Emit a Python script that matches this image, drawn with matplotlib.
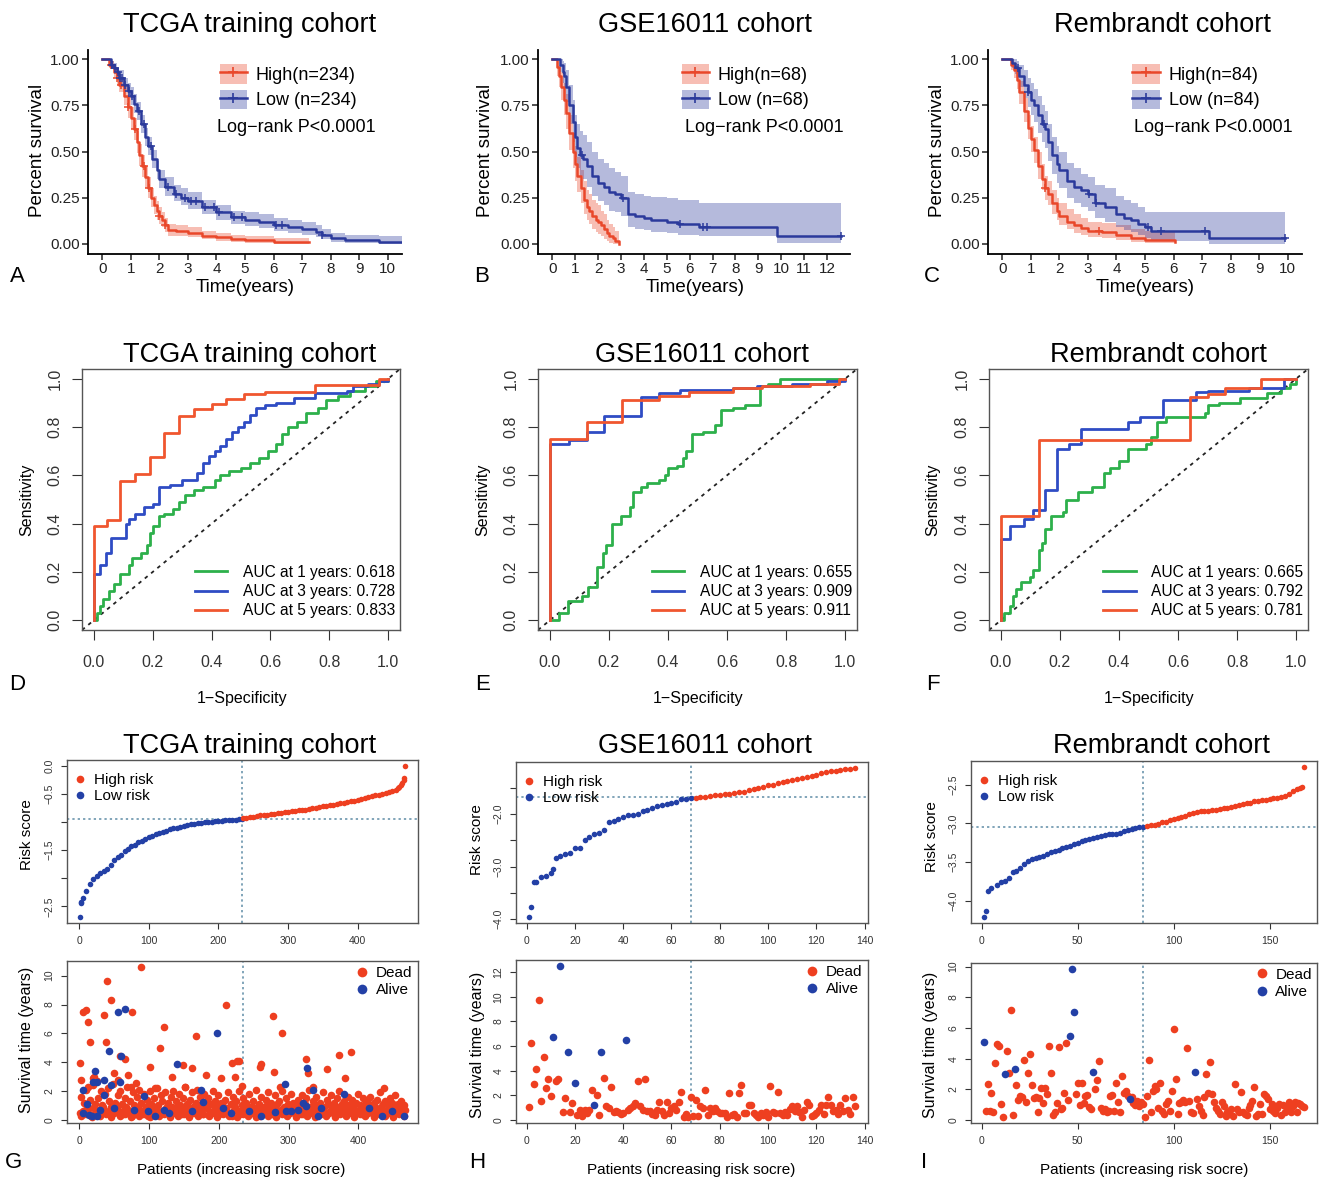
import numpy as np
import matplotlib
matplotlib.use('Agg')
import matplotlib.pyplot as plt
from matplotlib.lines import Line2D
from matplotlib.patches import Patch

plt.rcParams['font.family'] = ['Liberation Sans', 'DejaVu Sans']

# ---------------- Kaplan-Meier data (time, survival, lower CI, upper CI) ----------------
tcga_hi_t = [0, 0.25, 0.4, 0.5, 0.6, 0.75, 0.9, 1.0, 1.1, 1.2, 1.3, 1.4, 1.5, 1.6, 1.7, 1.8, 1.9, 2.0, 2.1, 2.2, 2.3, 2.6, 3.0, 3.5, 4.0, 4.5, 5.0, 6.0, 7.25]
tcga_hi_s = [1.0, 0.97, 0.93, 0.90, 0.86, 0.80, 0.74, 0.68, 0.62, 0.55, 0.48, 0.42, 0.36, 0.30, 0.25, 0.21, 0.18, 0.15, 0.13, 0.10, 0.075, 0.07, 0.06, 0.045, 0.035, 0.025, 0.02, 0.01, 0.01]
tcga_hi_lo = [1.0, 0.95, 0.90, 0.86, 0.82, 0.75, 0.68, 0.62, 0.56, 0.49, 0.42, 0.36, 0.30, 0.25, 0.20, 0.16, 0.13, 0.11, 0.09, 0.065, 0.045, 0.04, 0.035, 0.025, 0.015, 0.008, 0.005, 0.0, 0.0]
tcga_hi_up = [1.0, 0.99, 0.96, 0.94, 0.90, 0.85, 0.80, 0.74, 0.68, 0.61, 0.54, 0.48, 0.42, 0.36, 0.30, 0.26, 0.23, 0.20, 0.17, 0.14, 0.11, 0.10, 0.09, 0.07, 0.06, 0.05, 0.04, 0.03, 0.03]
tcga_hi_cens = [0.3, 0.5, 0.65, 0.9, 1.15, 1.45, 1.65, 2.0, 2.2]

tcga_lo_t = [0, 0.3, 0.4, 0.5, 0.6, 0.75, 0.9, 1.0, 1.1, 1.2, 1.35, 1.5, 1.6, 1.75, 1.9, 2.0, 2.2, 2.5, 2.75, 3.0, 3.5, 4.0, 4.5, 5.0, 5.5, 6.0, 6.5, 7.0, 7.5, 7.7, 8.0, 8.5, 9.0, 9.7, 10.5]
tcga_lo_s = [1.0, 0.97, 0.95, 0.93, 0.90, 0.86, 0.83, 0.80, 0.76, 0.72, 0.65, 0.58, 0.53, 0.46, 0.40, 0.35, 0.31, 0.27, 0.25, 0.23, 0.20, 0.17, 0.145, 0.13, 0.12, 0.10, 0.09, 0.08, 0.065, 0.05, 0.03, 0.02, 0.02, 0.01, 0.01]
tcga_lo_lo = [1.0, 0.95, 0.92, 0.90, 0.86, 0.82, 0.79, 0.75, 0.71, 0.67, 0.60, 0.53, 0.48, 0.41, 0.35, 0.30, 0.26, 0.23, 0.21, 0.19, 0.16, 0.13, 0.11, 0.095, 0.085, 0.07, 0.06, 0.05, 0.035, 0.025, 0.01, 0.005, 0.005, 0.0, 0.0]
tcga_lo_up = [1.0, 0.99, 0.98, 0.96, 0.94, 0.90, 0.87, 0.85, 0.81, 0.77, 0.70, 0.63, 0.58, 0.51, 0.45, 0.40, 0.36, 0.32, 0.30, 0.28, 0.24, 0.21, 0.18, 0.17, 0.16, 0.14, 0.13, 0.12, 0.10, 0.08, 0.06, 0.05, 0.05, 0.04, 0.04]
tcga_lo_cens = [0.35, 0.45, 0.55, 0.62, 0.7, 0.8, 0.95, 1.05, 1.3, 1.45, 1.7, 2.3, 2.6, 2.9, 3.1, 3.3, 3.6, 3.9, 4.1, 4.6, 4.9, 6.1, 6.3, 7.7]

gse_hi_t = [0, 0.2, 0.3, 0.4, 0.5, 0.6, 0.75, 0.9, 1.0, 1.1, 1.25, 1.4, 1.5, 1.6, 1.75, 1.9, 2.0, 2.15, 2.25, 2.4, 2.5, 2.65, 2.75, 2.9]
gse_hi_s = [1.0, 0.96, 0.91, 0.85, 0.78, 0.71, 0.60, 0.50, 0.43, 0.37, 0.30, 0.24, 0.20, 0.18, 0.15, 0.13, 0.12, 0.10, 0.08, 0.06, 0.045, 0.03, 0.015, 0.0]
gse_hi_lo = [1.0, 0.91, 0.85, 0.78, 0.70, 0.62, 0.51, 0.41, 0.34, 0.28, 0.22, 0.16, 0.13, 0.11, 0.08, 0.065, 0.055, 0.04, 0.025, 0.015, 0.005, 0.0, 0.0, 0.0]
gse_hi_up = [1.0, 1.0, 0.97, 0.93, 0.87, 0.81, 0.70, 0.60, 0.53, 0.47, 0.40, 0.34, 0.29, 0.27, 0.24, 0.22, 0.21, 0.18, 0.16, 0.13, 0.11, 0.09, 0.07, 0.05]
gse_hi_cens = []

gse_lo_t = [0, 0.35, 0.45, 0.5, 0.6, 0.75, 0.9, 1.0, 1.1, 1.2, 1.35, 1.5, 1.75, 2.0, 2.25, 2.5, 2.75, 3.0, 3.3, 3.6, 4.0, 4.3, 5.0, 5.5, 6.4, 9.8, 12.6]
gse_lo_s = [1.0, 0.97, 0.93, 0.91, 0.85, 0.75, 0.66, 0.58, 0.52, 0.48, 0.46, 0.42, 0.37, 0.33, 0.31, 0.28, 0.27, 0.25, 0.16, 0.15, 0.14, 0.13, 0.12, 0.11, 0.09, 0.045, 0.045]
gse_lo_lo = [1.0, 0.93, 0.87, 0.84, 0.77, 0.65, 0.55, 0.47, 0.41, 0.37, 0.35, 0.31, 0.26, 0.23, 0.21, 0.18, 0.17, 0.15, 0.09, 0.08, 0.075, 0.065, 0.06, 0.05, 0.04, 0.005, 0.005]
gse_lo_up = [1.0, 1.0, 0.99, 0.98, 0.94, 0.86, 0.78, 0.70, 0.65, 0.61, 0.59, 0.55, 0.50, 0.46, 0.44, 0.41, 0.39, 0.37, 0.28, 0.27, 0.26, 0.255, 0.25, 0.24, 0.22, 0.22, 0.22]
gse_lo_cens = [1.3, 3.1, 5.6, 6.6, 6.75, 12.6]

rem_hi_t = [0, 0.3, 0.4, 0.5, 0.6, 0.75, 0.9, 1.0, 1.1, 1.25, 1.4, 1.5, 1.6, 1.75, 1.9, 2.0, 2.25, 2.5, 2.75, 3.0, 3.5, 4.0, 4.5, 5.0, 6.05]
rem_hi_s = [1.0, 0.97, 0.94, 0.89, 0.82, 0.72, 0.63, 0.57, 0.51, 0.42, 0.35, 0.30, 0.27, 0.22, 0.18, 0.15, 0.12, 0.10, 0.085, 0.07, 0.065, 0.05, 0.03, 0.02, 0.01]
rem_hi_lo = [1.0, 0.94, 0.90, 0.84, 0.76, 0.66, 0.57, 0.50, 0.44, 0.35, 0.29, 0.24, 0.21, 0.16, 0.13, 0.10, 0.08, 0.06, 0.05, 0.035, 0.03, 0.02, 0.01, 0.005, 0.0]
rem_hi_up = [1.0, 1.0, 0.98, 0.94, 0.88, 0.79, 0.70, 0.64, 0.58, 0.50, 0.43, 0.37, 0.34, 0.29, 0.25, 0.22, 0.19, 0.16, 0.14, 0.12, 0.115, 0.10, 0.08, 0.07, 0.06]
rem_hi_cens = [1.5, 3.4]

rem_lo_t = [0, 0.35, 0.45, 0.5, 0.6, 0.75, 0.9, 1.0, 1.1, 1.25, 1.4, 1.5, 1.6, 1.75, 1.9, 2.0, 2.25, 2.5, 2.75, 3.0, 3.25, 3.6, 4.0, 4.25, 4.5, 4.75, 5.0, 5.2, 7.25, 9.9]
rem_lo_s = [1.0, 0.98, 0.96, 0.95, 0.91, 0.86, 0.82, 0.78, 0.75, 0.70, 0.65, 0.62, 0.55, 0.48, 0.43, 0.40, 0.34, 0.31, 0.29, 0.27, 0.22, 0.20, 0.16, 0.14, 0.13, 0.11, 0.09, 0.07, 0.03, 0.03]
rem_lo_lo = [1.0, 0.95, 0.92, 0.90, 0.85, 0.79, 0.74, 0.70, 0.66, 0.60, 0.55, 0.52, 0.45, 0.38, 0.33, 0.30, 0.25, 0.22, 0.20, 0.18, 0.14, 0.12, 0.09, 0.075, 0.065, 0.05, 0.03, 0.015, 0.0, 0.0]
rem_lo_up = [1.0, 1.0, 1.0, 0.99, 0.97, 0.94, 0.90, 0.87, 0.84, 0.80, 0.75, 0.72, 0.65, 0.58, 0.53, 0.50, 0.44, 0.41, 0.38, 0.36, 0.32, 0.30, 0.26, 0.24, 0.22, 0.20, 0.17, 0.17, 0.17, 0.17]
rem_lo_cens = [0.55, 0.9, 1.45, 3.05, 3.3, 5.1, 5.55, 7.1, 9.9]

# ---------------- ROC data (fpr at each jump, tpr after jump) ----------------
d_g_fpr = [0, 0.01, 0.02, 0.03, 0.05, 0.07, 0.09, 0.12, 0.13, 0.16, 0.18, 0.19, 0.20, 0.22, 0.24, 0.27, 0.29, 0.31, 0.34, 0.37, 0.41, 0.43, 0.46, 0.50, 0.53, 0.56, 0.59, 0.62, 0.64, 0.66, 0.69, 0.72, 0.76, 0.79, 0.83, 0.87, 0.92, 0.96, 1.0]
d_g_tpr = [0, 0.03, 0.06, 0.09, 0.12, 0.15, 0.19, 0.23, 0.26, 0.28, 0.31, 0.36, 0.39, 0.43, 0.44, 0.46, 0.49, 0.52, 0.54, 0.55, 0.58, 0.60, 0.62, 0.63, 0.65, 0.67, 0.70, 0.73, 0.77, 0.80, 0.82, 0.86, 0.88, 0.91, 0.93, 0.95, 0.97, 0.99, 1.0]
d_b_fpr = [0, 0, 0.02, 0.04, 0.06, 0.11, 0.12, 0.14, 0.17, 0.20, 0.22, 0.26, 0.30, 0.35, 0.37, 0.39, 0.41, 0.43, 0.45, 0.47, 0.49, 0.51, 0.53, 0.55, 0.58, 0.62, 0.68, 0.75, 0.86, 0.88, 0.93, 0.97, 1.0]
d_b_tpr = [0, 0.19, 0.23, 0.28, 0.34, 0.40, 0.42, 0.44, 0.47, 0.48, 0.55, 0.56, 0.58, 0.61, 0.65, 0.68, 0.70, 0.72, 0.75, 0.78, 0.80, 0.82, 0.85, 0.88, 0.89, 0.90, 0.92, 0.94, 0.95, 0.97, 0.98, 0.99, 1.0]
d_r_fpr = [0, 0, 0.045, 0.09, 0.14, 0.19, 0.24, 0.29, 0.34, 0.40, 0.45, 0.51, 0.58, 0.75, 0.97, 1.0]
d_r_tpr = [0, 0.39, 0.415, 0.575, 0.605, 0.675, 0.775, 0.845, 0.875, 0.895, 0.915, 0.935, 0.945, 0.975, 1.0, 1.0]

e_g_fpr = [0, 0.03, 0.06, 0.11, 0.13, 0.16, 0.18, 0.19, 0.21, 0.24, 0.27, 0.28, 0.31, 0.33, 0.37, 0.39, 0.40, 0.43, 0.45, 0.46, 0.48, 0.52, 0.56, 0.58, 0.62, 0.66, 0.71, 0.74, 0.78, 1.0]
e_g_tpr = [0, 0.03, 0.08, 0.10, 0.14, 0.22, 0.28, 0.31, 0.40, 0.43, 0.47, 0.53, 0.55, 0.57, 0.58, 0.60, 0.63, 0.64, 0.67, 0.70, 0.77, 0.78, 0.81, 0.87, 0.88, 0.89, 0.97, 0.98, 1.0, 1.0]
e_b_fpr = [0, 0, 0.065, 0.125, 0.185, 0.31, 0.37, 0.44, 0.62, 0.70, 0.82, 0.94, 1.0]
e_b_tpr = [0, 0.73, 0.745, 0.78, 0.845, 0.925, 0.94, 0.955, 0.96, 0.97, 0.98, 0.99, 1.0]
e_r_fpr = [0, 0, 0.125, 0.245, 0.37, 0.47, 0.62, 0.72, 0.88, 0.98, 1.0]
e_r_tpr = [0, 0.75, 0.82, 0.91, 0.93, 0.945, 0.96, 0.97, 0.98, 1.0, 1.0]

f_g_fpr = [0, 0.01, 0.03, 0.04, 0.05, 0.07, 0.10, 0.11, 0.13, 0.14, 0.15, 0.17, 0.21, 0.22, 0.26, 0.31, 0.35, 0.37, 0.40, 0.43, 0.49, 0.51, 0.53, 0.56, 0.69, 0.70, 0.74, 0.81, 0.90, 0.95, 0.98, 1.0]
f_g_tpr = [0, 0.03, 0.06, 0.10, 0.13, 0.16, 0.18, 0.21, 0.29, 0.32, 0.38, 0.43, 0.45, 0.50, 0.53, 0.55, 0.61, 0.63, 0.66, 0.71, 0.73, 0.76, 0.82, 0.84, 0.86, 0.89, 0.90, 0.92, 0.94, 0.96, 0.98, 1.0]
f_b_fpr = [0, 0, 0.03, 0.08, 0.11, 0.15, 0.19, 0.23, 0.27, 0.43, 0.47, 0.55, 0.66, 0.70, 0.84, 0.96, 1.0]
f_b_tpr = [0, 0.335, 0.39, 0.42, 0.455, 0.54, 0.71, 0.73, 0.79, 0.82, 0.84, 0.91, 0.945, 0.95, 0.96, 1.0, 1.0]
f_r_fpr = [0, 0, 0.13, 0.64, 0.70, 0.76, 0.88, 1.0]
f_r_tpr = [0, 0.43, 0.745, 0.925, 0.935, 0.96, 1.0, 1.0]

auc_d = ['0.618', '0.728', '0.833']
auc_e = ['0.655', '0.909', '0.911']
auc_f = ['0.665', '0.792', '0.781']

# ---------------- Risk score data ----------------
g_lo_idx = [1, 2, 3, 5, 10, 15, 20, 25, 30, 35, 40, 45, 50, 55, 60, 65, 70, 75, 80, 85, 90, 95, 100, 105, 110, 115, 120, 125, 130, 135, 140, 145, 150, 155, 160, 165, 170, 175, 180, 185, 190, 195, 200, 205, 210, 215, 220, 225, 230, 234]
g_lo_score = [-2.69, -2.45, -2.42, -2.36, -2.22, -2.10, -2.02, -1.96, -1.91, -1.87, -1.84, -1.76, -1.68, -1.62, -1.58, -1.52, -1.47, -1.43, -1.40, -1.36, -1.33, -1.30, -1.27, -1.24, -1.21, -1.19, -1.17, -1.15, -1.13, -1.11, -1.10, -1.08, -1.06, -1.05, -1.04, -1.03, -1.02, -1.01, -1.00, -0.995, -0.99, -0.985, -0.98, -0.975, -0.97, -0.965, -0.96, -0.955, -0.95, -0.94]
g_hi_idx = [235, 240, 245, 250, 255, 260, 265, 270, 275, 280, 285, 290, 295, 300, 305, 310, 315, 320, 325, 330, 335, 340, 345, 350, 355, 360, 365, 370, 375, 380, 385, 390, 395, 400, 405, 410, 415, 420, 425, 430, 435, 440, 445, 450, 455, 458, 460, 462, 464, 466, 467, 468]
g_hi_score = [-0.935, -0.92, -0.91, -0.90, -0.89, -0.88, -0.875, -0.865, -0.855, -0.85, -0.84, -0.83, -0.825, -0.815, -0.81, -0.80, -0.79, -0.785, -0.775, -0.765, -0.755, -0.745, -0.735, -0.72, -0.71, -0.70, -0.69, -0.68, -0.665, -0.655, -0.64, -0.63, -0.615, -0.60, -0.585, -0.57, -0.555, -0.54, -0.525, -0.51, -0.495, -0.48, -0.46, -0.44, -0.42, -0.40, -0.37, -0.34, -0.30, -0.25, -0.22, 0.0]
g_cut = [234, -0.94]

h_lo_idx = [1, 2, 3, 4, 6, 8, 10, 11, 12, 14, 16, 18, 20, 22, 24, 26, 28, 30, 32, 34, 36, 38, 40, 42, 44, 46, 48, 50, 52, 54, 56, 58, 60, 62, 64, 66, 68]
h_lo_score = [-3.96, -3.76, -3.29, -3.29, -3.20, -3.18, -3.12, -3.05, -2.84, -2.80, -2.77, -2.74, -2.64, -2.64, -2.50, -2.43, -2.39, -2.37, -2.30, -2.16, -2.13, -2.09, -2.06, -2.02, -2.02, -2.00, -1.95, -1.92, -1.89, -1.84, -1.83, -1.81, -1.79, -1.77, -1.72, -1.71, -1.69]
h_hi_idx = [70, 72, 74, 76, 78, 80, 82, 84, 86, 88, 90, 92, 94, 96, 98, 100, 102, 104, 106, 108, 110, 112, 114, 116, 118, 120, 122, 124, 126, 128, 130, 132, 134, 136]
h_hi_score = [-1.69, -1.675, -1.67, -1.66, -1.645, -1.64, -1.625, -1.625, -1.61, -1.59, -1.575, -1.55, -1.525, -1.50, -1.48, -1.455, -1.44, -1.42, -1.395, -1.375, -1.355, -1.34, -1.31, -1.29, -1.275, -1.255, -1.23, -1.21, -1.19, -1.175, -1.16, -1.15, -1.14, -1.125]
h_cut = [68, -1.68]

i_lo_idx = [1, 2, 3, 5, 8, 10, 12, 14, 16, 18, 20, 22, 24, 26, 28, 30, 32, 34, 36, 38, 40, 42, 44, 46, 48, 50, 52, 54, 56, 58, 60, 62, 64, 66, 68, 70, 72, 74, 76, 78, 80, 82, 84]
i_lo_score = [-4.21, -4.13, -3.87, -3.83, -3.79, -3.76, -3.74, -3.70, -3.63, -3.61, -3.57, -3.53, -3.48, -3.46, -3.45, -3.44, -3.42, -3.39, -3.375, -3.35, -3.34, -3.32, -3.30, -3.29, -3.27, -3.25, -3.23, -3.215, -3.20, -3.19, -3.17, -3.16, -3.145, -3.14, -3.14, -3.14, -3.12, -3.10, -3.085, -3.07, -3.06, -3.05, -3.04]
i_hi_idx = [86, 88, 90, 92, 94, 96, 98, 100, 102, 104, 106, 108, 110, 112, 114, 116, 118, 120, 122, 124, 126, 128, 130, 132, 134, 136, 138, 140, 142, 144, 146, 148, 150, 152, 154, 156, 158, 160, 162, 164, 166, 167, 168]
i_hi_score = [-3.03, -3.02, -3.015, -3.01, -2.985, -2.975, -2.955, -2.945, -2.93, -2.92, -2.90, -2.88, -2.865, -2.85, -2.835, -2.835, -2.835, -2.83, -2.82, -2.815, -2.805, -2.795, -2.785, -2.77, -2.76, -2.75, -2.735, -2.73, -2.715, -2.705, -2.70, -2.695, -2.685, -2.675, -2.67, -2.66, -2.64, -2.62, -2.58, -2.555, -2.545, -2.535, -2.27]
i_cut = [84, -3.04]

# ---------------- Survival time / status data ----------------
# TCGA: dead patients in the dense band (odd patients), a lower band (every 4th), outliers, alive
g_band_odd = [0.5, 1.6, 0.4, 1.2, 2.1, 0.9, 0.5, 1.4, 0.3, 2.4, 0.8, 1.1, 0.6,
              1.5, 0.4, 2.0, 1.0, 0.7, 1.8, 0.5, 2.2, 1.3, 0.9, 0.6, 2.5, 1.2,
              0.8, 1.7, 0.5, 2.0, 1.1, 0.4, 1.5, 0.9, 2.3, 0.6, 1.3, 0.3, 1.9,
              1.0, 0.5, 1.6, 2.1, 0.7, 1.2, 0.4, 1.8, 0.9, 1.4, 0.3, 2.0, 1.1,
              0.6, 1.5, 0.8, 2.2, 1.0, 0.4, 1.7, 1.3, 0.5, 1.9, 0.8, 1.2, 0.6,
              1.6, 0.9, 2.0, 0.5, 1.3, 0.7, 1.8, 1.0, 0.4, 1.5, 2.3, 0.8, 1.1,
              0.6, 1.4, 1.9, 0.9, 0.5, 1.2, 2.1, 0.7, 1.6, 1.0, 0.4, 1.8, 1.3,
              0.8, 1.5, 0.5, 1.1, 2.0, 0.7, 1.3, 0.9, 1.7, 0.4, 1.2, 1.0, 0.6,
              1.4, 0.8, 1.9, 0.5, 1.1, 0.3, 1.6, 0.9, 1.3, 0.6, 2.0, 0.4, 1.0,
              1.5, 0.7, 1.2, 0.4, 1.8, 0.9, 0.5, 1.3, 0.8, 2.1, 0.6, 1.1, 0.3,
              1.6, 0.9, 0.5, 1.4, 1.0, 1.9, 0.6, 1.2, 0.4, 0.8, 1.7, 1.1, 0.5,
              1.3, 0.7, 2.0, 0.9, 0.4, 1.5, 1.1, 0.6, 1.8, 0.8, 1.2, 0.5, 1.0,
              1.4, 0.6, 0.9, 1.7, 0.4, 1.1, 1.5, 0.7, 2.1, 0.9, 0.5, 1.3, 0.8,
              1.6, 1.0, 0.4, 1.2, 0.7, 1.9, 0.9, 0.5, 1.4, 1.1, 0.6, 1.7, 0.8,
              1.2, 0.4, 1.5, 0.9, 2.0, 0.6, 1.1, 1.3, 0.5, 0.8, 1.6, 1.0, 0.7,
              1.4, 0.9, 0.5, 1.2, 1.8, 0.7, 1.0, 0.4, 1.5, 1.1, 0.6, 1.3, 0.8,
              1.6, 1.0, 0.5, 1.2, 0.8, 1.4, 0.6, 1.9, 0.9, 1.1, 0.4, 1.3, 0.7,
              1.0, 1.5, 0.6, 1.2, 0.8, 1.7, 0.5, 1.1, 0.9, 1.3, 0.6, 1.0, 0.7]
g_band_low = [0.3, 0.6, 0.4, 0.8, 0.2, 0.5, 0.7, 0.3, 0.9, 0.4, 0.6, 0.2, 0.5,
              0.8, 0.3, 0.6, 0.4, 0.7, 0.2, 0.5, 0.9, 0.3, 0.6, 0.4, 0.8, 0.2,
              0.5, 0.7, 0.3, 0.6, 0.4, 0.9, 0.2, 0.5, 0.8, 0.3, 0.6, 0.4, 0.7,
              0.2, 0.5, 0.8, 0.3, 0.6, 0.4, 0.9, 0.3, 0.5, 0.7, 0.2, 0.6, 0.4,
              0.8, 0.3, 0.5, 0.7, 0.2, 0.6, 0.4, 0.9, 0.3, 0.5, 0.8, 0.2, 0.6,
              0.4, 0.7, 0.3, 0.5, 0.9, 0.2, 0.6, 0.4, 0.8, 0.3, 0.5, 0.7, 0.2,
              0.6, 0.4, 0.9, 0.3, 0.5, 0.8, 0.2, 0.6, 0.4, 0.7, 0.3, 0.5, 0.9,
              0.2, 0.6, 0.4, 0.8, 0.3, 0.5, 0.7, 0.2, 0.6, 0.4, 0.9, 0.3, 0.5,
              0.8, 0.2, 0.6, 0.4, 0.7, 0.3, 0.5, 0.9, 0.2, 0.6, 0.4, 0.8, 0.3]
g_out_idx = [1, 3, 5, 9, 12, 13, 15, 19, 21, 26, 36, 38, 40, 46, 50, 55, 59, 65, 70, 74, 75, 81, 88, 101, 108, 115, 122, 133, 148, 151, 161, 167, 181, 203, 211, 219, 223, 226, 229, 233, 259, 261, 278, 279, 288, 291, 325, 328, 335, 355, 373, 381, 390, 437]
g_out_time = [3.94, 2.74, 7.45, 7.6, 2.3, 6.8, 5.4, 2.9, 3.0, 2.7, 7.3, 5.4, 9.65, 8.3, 3.25, 2.8, 4.4, 4.2, 3.1, 2.3, 7.5, 2.55, 10.6, 3.65, 2.2, 4.95, 6.45, 2.95, 3.8, 2.3, 3.6, 5.8, 3.1, 2.9, 7.95, 3.95, 3.0, 4.05, 4.1, 2.35, 3.7, 3.9, 7.2, 3.35, 2.3, 6.0, 4.25, 3.25, 2.3, 3.5, 4.5, 2.9, 4.7, 2.2]
g_alive_idx = [5, 6, 11, 14, 18, 19, 22, 25, 26, 29, 35, 35, 42, 46, 50, 55, 58, 60, 66, 79, 93, 98, 108, 121, 129, 140, 161, 175, 178, 197, 206, 217, 243, 261, 281, 295, 297, 304, 313, 321, 325, 326, 335, 342, 347, 380, 415, 434, 448, 466]
g_alive_time = [2.1, 0.5, 1.1, 0.37, 0.25, 2.6, 3.4, 2.6, 0.25, 0.7, 1.75, 2.75, 4.8, 2.4, 0.8, 7.5, 2.6, 4.4, 7.7, 0.7, 1.65, 0.6, 0.25, 0.7, 0.5, 3.85, 0.6, 2.1, 1.25, 6.05, 0.8, 0.5, 0.6, 0.3, 0.55, 2.5, 0.6, 0.65, 0.7, 1.2, 0.95, 3.6, 2.05, 0.3, 0.8, 1.8, 0.8, 0.3, 0.6, 0.3]

# GSE16011: all 136 patients in risk order; alive patients listed separately
h_time = [1.05, 6.25, 2.95, 4.15, 9.75, 1.55, 5.15, 2.6, 3.3, 1.95, 6.7, 3.2, 3.3, 12.5, 0.65, 1.75, 5.55, 0.65, 1.4, 3.0,
          0.4, 0.85, 0.3, 0.85, 0.6, 0.8, 2.4, 1.2, 2.05, 0.4, 5.55, 3.4, 1.1, 1.0, 2.7, 0.65, 0.75, 0.65, 0.5, 0.55,
          6.5, 0.85, 0.95, 1.1, 1.4, 3.2, 1.1, 0.85, 3.3, 0.75, 0.7, 0.5, 0.4, 0.85, 1.45, 0.75, 0.4, 1.45, 0.6, 0.95,
          1.1, 0.8, 1.45, 2.3, 0.25, 0.5, 0.25, 1.85, 0.3, 1.65, 0.3, 1.15, 0.95, 2.4, 0.4, 0.95, 0.75, 1.0, 0.7, 0.55,
          0.6, 0.55, 0.25, 2.2, 0.4, 0.5, 0.25, 2.2, 2.85, 0.6, 0.55, 1.25, 1.25, 0.55, 0.4, 0.25, 0.55, 0.4, 0.65, 0.25,
          2.75, 0.65, 0.55, 2.3, 0.55, 0.4, 0.65, 0.4, 0.9, 1.1, 0.7, 1.1, 0.65, 0.25, 0.8, 1.5, 1.25, 0.3, 0.4, 0.55,
          0.85, 1.25, 0.5, 1.2, 1.9, 1.2, 0.7, 0.85, 0.5, 1.25, 0.7, 1.75, 0.8, 0.45, 1.9, 1.1]
h_alive = [11, 14, 17, 20, 28, 31, 41]

# Rembrandt: all 168 patients in risk order; alive patients listed separately
i_time = [5.1, 0.6, 2.35, 0.6, 1.8, 0.5, 3.75, 4.95, 4.8, 1.05, 0.2, 3.0, 4.5, 3.05, 7.15, 0.35, 3.3, 2.3, 1.3, 1.6,
          1.5, 3.9, 1.2, 3.05, 4.3, 2.3, 1.45, 1.5, 0.55, 1.45, 2.1, 1.1, 2.1, 1.7, 4.85, 3.05, 0.35, 0.5, 1.1, 4.75,
          0.7, 0.8, 1.75, 5.05, 1.3, 5.5, 9.85, 7.05, 1.7, 2.45, 1.0, 2.4, 1.1, 1.55, 1.65, 0.85, 0.7, 3.15, 2.05, 2.6,
          3.85, 0.8, 0.6, 0.75, 0.5, 0.6, 1.55, 1.65, 0.6, 2.4, 1.2, 0.55, 2.9, 1.75, 1.9, 1.6, 1.4, 1.5, 1.1, 1.0,
          1.25, 0.95, 1.2, 1.05, 0.2, 1.6, 3.95, 0.5, 1.9, 2.2, 2.0, 0.8, 2.4, 0.6, 0.4, 1.05, 1.25, 0.6, 1.9, 5.95,
          2.65, 0.4, 1.1, 1.15, 1.3, 1.2, 4.7, 1.25, 0.5, 0.45, 3.15, 1.4, 0.9, 0.6, 0.35, 1.5, 3.0, 1.75, 3.8, 1.7,
          1.2, 0.8, 0.6, 0.4, 1.2, 0.9, 0.25, 0.5, 0.6, 0.7, 0.3, 2.35, 0.75, 0.5, 1.85, 0.55, 0.4, 0.35, 0.8, 1.0,
          1.25, 2.15, 0.3, 0.4, 1.05, 0.4, 1.7, 1.55, 1.4, 0.75, 1.05, 0.6, 0.45, 0.8, 1.05, 0.35, 1.0, 0.55, 0.8, 1.15,
          0.5, 0.95, 1.2, 0.55, 1.1, 1.05, 0.9, 0.85]
i_alive = [1, 12, 17, 46, 47, 48, 58, 77, 111]

# ---------------- colours ----------------
KM_RED = '#E9472A'
KM_BLUE = '#2B3A9B'
ROC_GREEN = '#2DB04B'
ROC_BLUE = '#2F4CC4'
ROC_RED = '#F0562F'
PT_RED = '#EE3F20'
PT_BLUE = '#2340A6'
CUT_COL = '#5E8CA6'
FRAME = '#555555'

W, H = 1328, 1179
fig = plt.figure(figsize=(W / 100, H / 100), dpi=100)


def px_axes(x0, y0, x1, y1):
    return fig.add_axes([x0 / W, 1 - y1 / H, (x1 - x0) / W, (y1 - y0) / H])


def ftext(x, y, s, **kw):
    fig.text(x / W, 1 - y / H, s, **kw)


def r_lim(v):
    lo, hi = np.min(v), np.max(v)
    pad = 0.04 * (hi - lo)
    return lo - pad, hi + pad


def km_panel(box, curves, n, xlim, xticks, leg_x, lr_x):
    ax = px_axes(*box)
    handles = []
    for (t, s, lo, up, cens), col in zip(curves, [KM_RED, KM_BLUE]):
        ax.fill_between(t, lo, up, step='post', color=col, alpha=0.35, lw=0)
        ax.step(t, s, where='post', color=col, lw=1.8)
        if len(cens):
            k = np.searchsorted(t, cens, side='right') - 1
            ax.plot(cens, np.array(s)[k], '+', color=col, ms=6, mew=1.1)
        handles.append((Patch(facecolor=col, alpha=0.35, lw=0),
                        Line2D([], [], color=col, lw=1.8, marker='+', ms=7, mew=1.2)))
    ax.set_xlim(*xlim)
    ax.set_ylim(-0.055, 1.05)
    ax.set_xticks(xticks)
    ax.set_yticks([0, 0.25, 0.5, 0.75, 1.0])
    ax.set_yticklabels(['0.00', '0.25', '0.50', '0.75', '1.00'])
    for sp in ['top', 'right']:
        ax.spines[sp].set_visible(False)
    for sp in ['left', 'bottom']:
        ax.spines[sp].set_linewidth(1.3)
    ax.tick_params(length=4, width=1.1, labelsize=11, pad=2, colors='#222222')
    ax.legend(handles, ['High(n=%d)' % n, 'Low (n=%d)' % n], loc='upper left',
              bbox_to_anchor=(leg_x, 0.93), frameon=False, fontsize=13,
              handlelength=1.5, handleheight=1.3, handletextpad=0.5,
              labelspacing=0.3, borderpad=0, borderaxespad=0)
    ax.text(lr_x, 0.62, 'Log\u2212rank P<0.0001', transform=ax.transAxes,
            fontsize=13, va='center', ha='left')
    return ax


def r_frame(ax, lsize):
    for sp in ax.spines.values():
        sp.set_color(FRAME)
        sp.set_linewidth(1.0)
    ax.tick_params(colors='#333333', labelsize=lsize)


def roc_panel(box, curves, aucs):
    ax = px_axes(*box)
    ax.plot([-0.04, 1.04], [-0.04, 1.04], color='#222222', ls=(0, (2, 2.5)), lw=1.3)
    for (f, t), col, yr, a in zip(curves, [ROC_GREEN, ROC_BLUE, ROC_RED], [1, 3, 5], aucs):
        ax.step(f, t, where='post', color=col, lw=2.0, label='AUC at %d years: %s' % (yr, a))
    ax.set_xlim(-0.04, 1.04)
    ax.set_ylim(-0.04, 1.04)
    tk = [0, 0.2, 0.4, 0.6, 0.8, 1.0]
    ax.set_xticks(tk)
    ax.set_yticks(tk)
    ax.set_xticklabels(['%.1f' % v for v in tk])
    ax.set_yticklabels(['%.1f' % v for v in tk], rotation=90, va='center')
    r_frame(ax, 11.5)
    ax.tick_params(axis='x', length=7, pad=11)
    ax.tick_params(axis='y', length=7, pad=7)
    ax.legend(loc='lower right', bbox_to_anchor=(0.985, 0.045), frameon=False,
              fontsize=11.2, handlelength=2.1, handletextpad=1.0, labelspacing=0.27,
              borderpad=0, borderaxespad=0)
    return ax


def risk_panel(box, lo_idx, lo_sc, hi_idx, hi_sc, cut, xticks, yticks, ylabels):
    ax = px_axes(*box)
    ax.scatter(lo_idx, lo_sc, s=16, color=PT_BLUE, lw=0, zorder=3)
    ax.scatter(hi_idx, hi_sc, s=16, color=PT_RED, lw=0, zorder=3)
    ax.axvline(cut[0], color=CUT_COL, ls=(0, (1.5, 2)), lw=1.1)
    ax.axhline(cut[1], color=CUT_COL, ls=(0, (1.5, 2)), lw=1.1)
    ax.set_xlim(*r_lim(lo_idx + hi_idx))
    ax.set_ylim(*r_lim(lo_sc + hi_sc))
    ax.set_xticks(xticks)
    ax.set_yticks(yticks)
    ax.set_yticklabels(ylabels, rotation=90, va='center')
    r_frame(ax, 7.5)
    ax.tick_params(length=4, pad=5)
    hd = [Line2D([], [], ls='none', marker='o', ms=5.5, color=PT_RED, mew=0),
          Line2D([], [], ls='none', marker='o', ms=5.5, color=PT_BLUE, mew=0)]
    ax.legend(hd, ['High risk', 'Low risk'], loc='upper left', bbox_to_anchor=(0.02, 0.92),
              frameon=False, fontsize=11, handlelength=0.8, handletextpad=0.5,
              labelspacing=0.15, borderpad=0, borderaxespad=0)
    return ax


def surv_panel(box, d_x, d_y, a_x, a_y, cut_x, all_x, all_y, xticks, yticks):
    ax = px_axes(*box)
    ax.scatter(d_x, d_y, s=30, color=PT_RED, lw=0, zorder=3)
    ax.scatter(a_x, a_y, s=30, color=PT_BLUE, lw=0, zorder=4)
    ax.axvline(cut_x, color=CUT_COL, ls=(0, (1.5, 2)), lw=1.1)
    ax.set_xlim(*r_lim(all_x))
    ax.set_ylim(*r_lim(all_y))
    ax.set_xticks(xticks)
    ax.set_yticks(yticks)
    ax.set_yticklabels([str(v) for v in yticks], rotation=90, va='center')
    r_frame(ax, 7.5)
    ax.tick_params(length=4, pad=5)
    hd = [Line2D([], [], ls='none', marker='o', ms=7, color=PT_RED, mew=0),
          Line2D([], [], ls='none', marker='o', ms=7, color=PT_BLUE, mew=0)]
    ax.legend(hd, ['Dead', 'Alive'], loc='upper right', bbox_to_anchor=(0.985, 0.97),
              frameon=False, fontsize=11, handlelength=0.8, handletextpad=0.5,
              labelspacing=0.2, borderpad=0, borderaxespad=0)
    return ax


# ---------------- row 1: Kaplan-Meier ----------------
km_panel((88, 50, 402, 254),
         [(tcga_hi_t, tcga_hi_s, tcga_hi_lo, tcga_hi_up, tcga_hi_cens),
          (tcga_lo_t, tcga_lo_s, tcga_lo_lo, tcga_lo_up, tcga_lo_cens)],
         234, (-0.5, 10.5), range(0, 11), 0.42, 0.41)
km_panel((538, 50, 850, 254),
         [(gse_hi_t, gse_hi_s, gse_hi_lo, gse_hi_up, gse_hi_cens),
          (gse_lo_t, gse_lo_s, gse_lo_lo, gse_lo_up, gse_lo_cens)],
         68, (-0.62, 13.0), range(0, 13), 0.46, 0.47)
km_panel((988, 50, 1302, 254),
         [(rem_hi_t, rem_hi_s, rem_hi_lo, rem_hi_up, rem_hi_cens),
          (rem_lo_t, rem_lo_s, rem_lo_lo, rem_lo_up, rem_lo_cens)],
         84, (-0.5, 10.5), range(0, 11), 0.46, 0.465)

# ---------------- row 2: ROC ----------------
roc_panel((82, 369, 400, 630), [(d_g_fpr, d_g_tpr), (d_b_fpr, d_b_tpr), (d_r_fpr, d_r_tpr)], auc_d)
roc_panel((538, 369, 857, 630), [(e_g_fpr, e_g_tpr), (e_b_fpr, e_b_tpr), (e_r_fpr, e_r_tpr)], auc_e)
roc_panel((989, 369, 1308, 630), [(f_g_fpr, f_g_tpr), (f_b_fpr, f_b_tpr), (f_r_fpr, f_r_tpr)], auc_f)

# ---------------- row 3: risk score + survival status ----------------
risk_panel((67, 760, 418, 923), g_lo_idx, g_lo_score, g_hi_idx, g_hi_score, g_cut,
           [0, 100, 200, 300, 400], [0, -0.5, -1.0, -1.5, -2.0, -2.5],
           ['0.0', '\u22120.5', '', '\u22121.5', '', '\u22122.5'])
risk_panel((516, 762, 868, 923), h_lo_idx, h_lo_score, h_hi_idx, h_hi_score, h_cut,
           [0, 20, 40, 60, 80, 100, 120, 140], [-4.0, -3.5, -3.0, -2.5, -2.0, -1.5],
           ['\u22124.0', '', '\u22123.0', '', '\u22122.0', ''])
risk_panel((971, 761, 1317, 923), i_lo_idx, i_lo_score, i_hi_idx, i_hi_score, i_cut,
           [0, 50, 100, 150], [-4.0, -3.5, -3.0, -2.5],
           ['\u22124.0', '\u22123.5', '\u22123.0', '\u22122.5'])

g_odd_x = list(range(1, 468, 2))
g_low_x = list(range(2, 468, 4))
g_dx = g_odd_x + g_low_x + g_out_idx
g_dy = g_band_odd + g_band_low + g_out_time
surv_panel((67, 961, 418, 1123), g_dx, g_dy, g_alive_idx, g_alive_time, g_cut[0],
           g_dx + g_alive_idx, g_dy + g_alive_time, [0, 100, 200, 300, 400], [0, 2, 4, 6, 8, 10])

h_x = list(range(1, len(h_time) + 1))
h_dead = [p for p in h_x if p not in h_alive]
surv_panel((516, 960, 868, 1123), h_dead, [h_time[p - 1] for p in h_dead],
           h_alive, [h_time[p - 1] for p in h_alive], h_cut[0], h_x, h_time,
           [0, 20, 40, 60, 80, 100, 120, 140], [0, 2, 4, 6, 8, 10, 12])

i_x = list(range(1, len(i_time) + 1))
i_dead = [p for p in i_x if p not in i_alive]
surv_panel((971, 963, 1317, 1123), i_dead, [i_time[p - 1] for p in i_dead],
           i_alive, [i_time[p - 1] for p in i_alive], i_cut[0], i_x, i_time,
           [0, 50, 100, 150], [0, 2, 4, 6, 8, 10])

# ---------------- titles, axis labels and panel letters ----------------
titles = ['TCGA training cohort', 'GSE16011 cohort', 'Rembrandt cohort']
title_x = [[250, 705, 1162], [250, 702, 1158], [250, 705, 1161]]
title_y = [32, 362, 753]
for r in range(3):
    for c in range(3):
        ftext(title_x[r][c], title_y[r], titles[c], fontsize=19.5, ha='center', va='baseline')

for x in [38, 485, 937]:
    ftext(x, 150, 'Percent survival', fontsize=13.5, rotation=90, ha='center', va='center')
for x in [245, 695, 1145]:
    ftext(x, 288, 'Time(years)', fontsize=13.5, ha='center', va='center')
for x in [27, 483, 933]:
    ftext(x, 500, 'Sensitivity', fontsize=11.5, rotation=90, ha='center', va='center')
for x in [242, 698, 1149]:
    ftext(x, 698, '1\u2212Specificity', fontsize=11.5, ha='center', va='center')
for x, y in [(27, 835), (477, 840), (932, 837)]:
    ftext(x, y, 'Risk score', fontsize=11, rotation=90, ha='center', va='center')
for x, y in [(27, 1040), (477, 1045), (930, 1045)]:
    ftext(x, y, 'Survival time (years)', fontsize=11.5, rotation=90, ha='center', va='center')
for x in [241, 691, 1144]:
    ftext(x, 1170, 'Patients (increasing risk socre)', fontsize=11, ha='center', va='center')

letters = [('A', 17, 276), ('B', 482, 276), ('C', 932, 276),
           ('D', 17, 684), ('E', 483, 684), ('F', 933, 684),
           ('G', 14, 1163), ('H', 477, 1163), ('I', 924, 1163)]
for s, x, y in letters:
    ftext(x, y, s, fontsize=16, ha='center', va='center')

fig.savefig('out.png', dpi=100)
